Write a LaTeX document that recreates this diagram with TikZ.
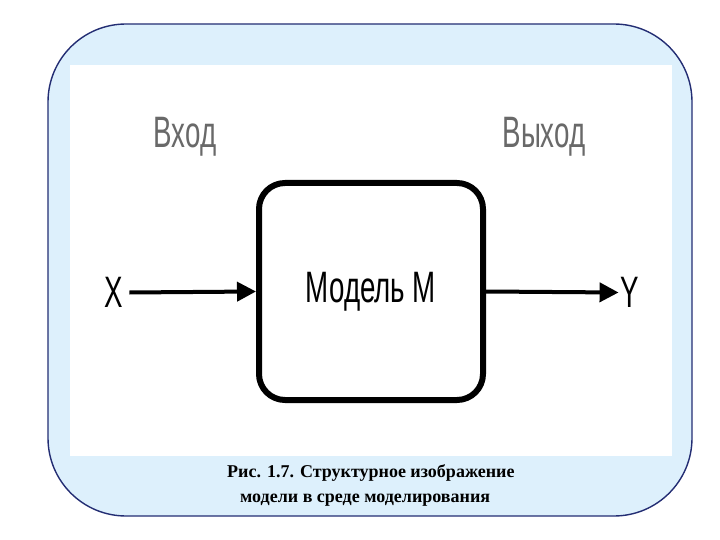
\documentclass[tikz,border=0pt]{standalone}
\usepackage{fontspec}
\setmainfont{Liberation Serif}
\newfontfamily\labelfont{Liberation Sans}
\usetikzlibrary{arrows.meta}
\definecolor{panelfill}{RGB}{221,240,252}
\definecolor{panelline}{RGB}{35,45,115}
\definecolor{labelgray}{RGB}{105,105,105}
\newcommand{\narrow}[1]{\scalebox{0.63}[1]{#1}}
\tikzset{
  bigtext/.style={font=\labelfont\fontsize{44}{48}\selectfont,inner sep=2pt},
  signal/.style={line width=4pt,-{Triangle[length=19pt,width=19pt]}},
  caption/.style={font=\bfseries\fontsize{18}{21}\selectfont,anchor=base west,inner sep=0pt}
}
\begin{document}
\begin{tikzpicture}[x=1pt,y=-1pt]
\useasboundingbox (0,0) rectangle (720,540);
\fill[white] (0,0) rectangle (720,540);
\draw[panelline,fill=panelfill,line width=1.4pt,rounded corners=78pt] (48,24) rectangle (692,516);
\fill[white] (70,65) rectangle (672,456);
\node[bigtext,text=labelgray,anchor=base] (in) at (185,148) {\narrow{Вход}};
\node[bigtext,text=labelgray,anchor=base] (out) at (544,148) {\narrow{Выход}};
\node[bigtext,draw,line width=6pt,rounded corners=26pt,minimum width=224pt,minimum height=217pt] (model) at (371,291.5) {\narrow{Модель М}};
\node[bigtext,inner sep=6pt] (x) at (114,292.5) {\narrow{X}};
\node[bigtext] (y) at (630,292.5) {\narrow{Y}};
\draw[signal] (x.east) -- (model.west);
\draw[signal] (model.east) -- (y.west);
\node[caption] (cap1) at (227,477) {Рис. 1.7. Структурное изображение};
\node[caption] (cap2) at (240,502) {модели в среде моделирования};
\end{tikzpicture}
\end{document}
